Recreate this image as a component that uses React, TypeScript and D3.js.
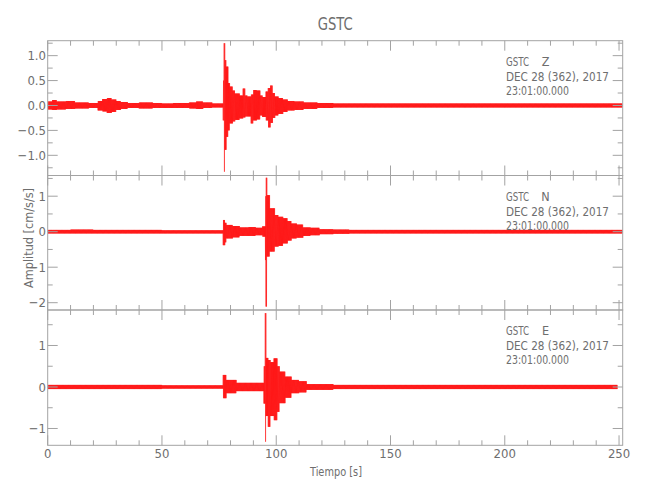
import React from "react";
import * as d3 from "d3";

// ---------- text ----------
const TITLE = "GSTC";
const STATION = "GSTC";
const DATE_LINE = "DEC 28 (362), 2017";
const TIME_LINE = "23:01:00.000";
const X_LABEL = "Tiempo [s]";
const Y_LABEL = "Amplitud [cm/s/s]";
const COMPONENTS = ["Z", "N", "E"];

// ---------- axes ----------
const X_MAX = 251.6;
const X_TICKS = [0, 50, 100, 150, 200, 250];
const X_MINOR_STEP = 10;

const Z_DOMAIN = [-1.405, 1.3];
const Z_TICKS = [-1.0, -0.5, 0.0, 0.5, 1.0];
const Z_MINOR = 0.25;
const N_DOMAIN = [-2.206, 1.583];
const N_TICKS = [-2, -1, 0, 1];
const N_MINOR = 0.5;
const E_DOMAIN = [-1.405, 1.855];
const E_TICKS = [-1, 0, 1];
const E_MINOR = 0.5;

// ---------- traces: envelope segments (start time [s], upper, lower) ----------
const zT = [0, 2, 4, 8, 12, 18, 22, 24, 26, 28, 30, 32, 35, 40, 46, 50, 55, 62, 65, 68, 72,
  76.8, 77.2, 77.6, 78.2, 79, 79.7, 81, 82, 84, 85.5, 86.5, 87.5, 89, 90, 91.5, 93, 94, 95.5,
  96.5, 97.5, 98.5, 99.5, 101, 103, 105, 108, 112, 118, 125];
const zHi = [0.08, 0.11, 0.08, 0.09, 0.06, 0.05, 0.09, 0.13, 0.15, 0.12, 0.09, 0.07, 0.05, 0.06, 0.05, 0.04, 0.05, 0.06, 0.08, 0.06, 0.04,
  0.5, 1.25, 0.91, 0.78, 0.45, 0.38, 0.3, 0.24, 0.2, 0.34, 0.2, 0.18, 0.22, 0.31, 0.3, 0.2, 0.17, 0.28,
  0.35, 0.4, 0.25, 0.18, 0.15, 0.12, 0.09, 0.08, 0.06, 0.05, 0.04];
const zLo = [-0.08, -0.09, -0.08, -0.07, -0.06, -0.05, -0.1, -0.12, -0.15, -0.13, -0.09, -0.07, -0.05, -0.06, -0.05, -0.05, -0.05, -0.06, -0.07, -0.05, -0.04,
  -0.3, -1.33, -0.89, -0.63, -0.5, -0.36, -0.32, -0.29, -0.26, -0.24, -0.22, -0.22, -0.36, -0.3, -0.28, -0.2, -0.23, -0.3,
  -0.44, -0.35, -0.25, -0.2, -0.17, -0.13, -0.1, -0.09, -0.07, -0.05, -0.04];
const zEnd = 251.6;

const nT = [0, 10, 20, 50, 76.8, 77.6, 78.2, 81, 84, 88, 91, 94, 95.3, 95.5, 96.0, 97.2, 99.4, 101, 103, 105,
  106.7, 109, 111.8, 115, 119, 125, 132];
const nHi = [0.05, 0.06, 0.05, 0.04, 0.33, 0.25, 0.19, 0.16, 0.12, 0.13, 0.11, 0.15, 1.0, 1.52, 1.03, 0.66, 0.47, 0.42, 0.38, 0.3,
  0.23, 0.2, 0.12, 0.11, 0.07, 0.06, 0.05];
const nLo = [-0.05, -0.05, -0.05, -0.05, -0.38, -0.3, -0.19, -0.16, -0.12, -0.12, -0.1, -0.14, -0.8, -2.11, -0.7, -0.56, -0.42, -0.4, -0.33, -0.25,
  -0.19, -0.17, -0.12, -0.1, -0.07, -0.06, -0.05];
const nEnd = 251.6;

const eT = [0, 20, 50, 76.8, 78.2, 82.6, 94.6, 95.2, 95.6, 96.5, 97.5, 99, 100.5, 101.5, 104, 106.7, 110, 113.3, 125];
const eHi = [0.05, 0.05, 0.04, 0.29, 0.17, 0.1, 0.5, 1.78, 0.7, 0.65, 0.6, 0.69, 0.5, 0.37, 0.25, 0.17, 0.14, 0.07, 0.05];
const eLo = [-0.05, -0.05, -0.04, -0.27, -0.15, -0.1, -0.4, -1.32, -0.7, -0.96, -0.7, -0.8, -0.6, -0.39, -0.26, -0.15, -0.13, -0.07, -0.05];
const eEnd = 249.4;

// ---------- layout ----------
const W = 650;
const H = 500;
const LEFT = 47.7;
const RIGHT = 622.7;
const PANEL_TOPS = [40.7, 175.5, 310];
const PANEL_BOTTOMS = [175.5, 310, 445.3];
const AXIS = "#a3a3a3";
const TEXT = "#6e6e6e";
const RED = "#ff0000";
const FONT = "'Liberation Sans Narrow', 'DejaVu Sans Condensed', 'Liberation Sans', sans-serif";

function zigzag(T: number[], hi: number[], lo: number[], end: number, dt: number) {
  const pts: [number, number][] = [];
  let k = 0;
  for (let i = 0; i < T.length; i++) {
    const t0 = T[i];
    const t1 = i + 1 < T.length ? T[i + 1] : end;
    const n = Math.max(2, Math.round((t1 - t0) / dt));
    const step = (t1 - t0) / n;
    for (let j = 0; j < n; j++) {
      pts.push([t0 + j * step, k % 2 === 0 ? hi[i] : lo[i]]);
      k++;
    }
  }
  return pts;
}

function fmtTick(v: number, decimals: number) {
  const s = Math.abs(v).toFixed(decimals);
  return v < 0 ? "\u2212" + s : s;
}

export default function App() {
  const x = d3.scaleLinear().domain([0, X_MAX]).range([LEFT, RIGHT]);
  const xMinor = d3.range(0, X_MAX + 1e-9, X_MINOR_STEP);

  const panels = [
    { comp: COMPONENTS[0], domain: Z_DOMAIN, ticks: Z_TICKS, minor: Z_MINOR, dec: 1, T: zT, hi: zHi, lo: zLo, end: zEnd },
    { comp: COMPONENTS[1], domain: N_DOMAIN, ticks: N_TICKS, minor: N_MINOR, dec: 0, T: nT, hi: nHi, lo: nLo, end: nEnd },
    { comp: COMPONENTS[2], domain: E_DOMAIN, ticks: E_TICKS, minor: E_MINOR, dec: 0, T: eT, hi: eHi, lo: eLo, end: eEnd },
  ];

  const line = d3.line<[number, number]>();

  return (
    <svg width={W} height={H} style={{ position: "absolute", left: 0, top: 0, background: "#fff" }}
      fontFamily={FONT}>
      <rect x={0} y={0} width={W} height={H} fill="#fff" />
      <defs>
        {panels.map((p, i) => (
          <clipPath id={`clip${i}`} key={i}>
            <rect x={LEFT} y={PANEL_TOPS[i]} width={RIGHT - LEFT} height={PANEL_BOTTOMS[i] - PANEL_TOPS[i]} />
          </clipPath>
        ))}
      </defs>
      <text x={(LEFT + RIGHT) / 2} y={30} textAnchor="middle" fontSize={18} fill={TEXT}
        textLength={35} lengthAdjust="spacingAndGlyphs">{TITLE}</text>

      {panels.map((p, i) => {
        const top = PANEL_TOPS[i];
        const bot = PANEL_BOTTOMS[i];
        const y = d3.scaleLinear().domain(p.domain).range([bot, top]);
        const yMinor = d3.range(Math.ceil(p.domain[0] / p.minor) * p.minor, p.domain[1] + 1e-9, p.minor);
        const pts = zigzag(p.T, p.hi, p.lo, p.end, 0.12).map(([t, v]) => [x(t), y(v)] as [number, number]);
        return (
          <g key={i}>
            <g clipPath={`url(#clip${i})`}>
              <path d={line(pts) || ""} fill="none" stroke={RED} strokeWidth={0.5} strokeLinejoin="miter" />
            </g>
            <rect x={LEFT} y={top} width={RIGHT - LEFT} height={bot - top} fill="none" stroke={AXIS} strokeWidth={1} />
            {xMinor.map((t) => {
              const major = X_TICKS.includes(t);
              const len = major ? 10 : 5;
              const xx = x(t);
              return (
                <g key={`x${t}`} stroke={AXIS} strokeWidth={1}>
                  <line x1={xx} x2={xx} y1={bot} y2={bot - len} />
                  <line x1={xx} x2={xx} y1={top} y2={top + len} />
                </g>
              );
            })}
            {yMinor.map((v) => {
              const major = p.ticks.some((tv) => Math.abs(tv - v) < 1e-6);
              const len = major ? 10 : 5;
              const yy = y(v);
              return (
                <g key={`y${v}`} stroke={AXIS} strokeWidth={1}>
                  <line x1={LEFT} x2={LEFT + len} y1={yy} y2={yy} />
                  <line x1={RIGHT} x2={RIGHT - len} y1={yy} y2={yy} />
                </g>
              );
            })}
            {p.ticks.map((v) => (
              <text key={`yl${v}`} x={46} y={y(v) + 4.6} textAnchor="end" fontSize={13} fill={TEXT}>
                {fmtTick(v, p.dec)}
              </text>
            ))}
            <text x={506} y={top + 25} fontSize={12.5} fill={TEXT} textLength={23} lengthAdjust="spacingAndGlyphs">{STATION}</text>
            <text x={545.5} y={top + 25} fontSize={12.5} fill={TEXT} textAnchor="middle">{p.comp}</text>
            <text x={506} y={top + 40} fontSize={12.5} fill={TEXT} textLength={103} lengthAdjust="spacingAndGlyphs">{DATE_LINE}</text>
            <text x={506} y={top + 54.3} fontSize={12.5} fill={TEXT} textLength={63} lengthAdjust="spacingAndGlyphs">{TIME_LINE}</text>
          </g>
        );
      })}

      {X_TICKS.map((t) => (
        <text key={`xl${t}`} x={x(t)} y={458.3} textAnchor="middle" fontSize={13} fill={TEXT}>{t}</text>
      ))}
      <text x={336} y={475.5} textAnchor="middle" fontSize={13} fill={TEXT} textLength={52} lengthAdjust="spacingAndGlyphs">{X_LABEL}</text>
      <text transform={`translate(33.3, 238) rotate(-90)`} textAnchor="middle" fontSize={13} fill={TEXT}
        textLength={100} lengthAdjust="spacingAndGlyphs">{Y_LABEL}</text>
    </svg>
  );
}
